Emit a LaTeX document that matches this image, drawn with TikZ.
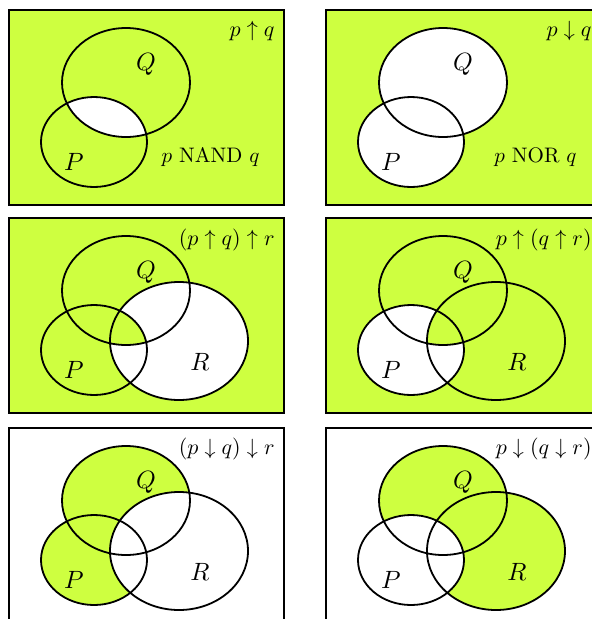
\documentclass[tikz,border=0pt]{standalone}
\usepackage{amsmath}
\definecolor{lime}{RGB}{206,255,64}
\tikzset{
  outline/.style={draw=black, line width=1.8pt},
  frame/.style={draw=black, line width=2pt},
  biglab/.style={inner sep=0pt, scale=2.5, anchor=base},
  smalllab/.style={inner sep=0pt, scale=2.2, anchor=base east},
  oplab/.style={inner sep=0pt, scale=2.1, anchor=base east},
}
\newcommand\venP{(94,142) ellipse [x radius=53pt, y radius=45pt]}
\newcommand\venQ{(126,82.5) ellipse [x radius=64pt, y radius=54.5pt]}
\newcommand\venR{(179,133) ellipse [x radius=69pt, y radius=59pt]}
\newcommand\venBox{(9,10) rectangle (284,205)}
\begin{document}
\begin{tikzpicture}[x=1pt,y=-1pt]
\useasboundingbox (0,0) rectangle (592,619);
\clip (0,0) rectangle (592,619);

% Panel 1: p NAND q
\begin{scope}
  \fill[lime] \venBox;
  \begin{scope}\clip \venP; \fill[white] \venQ; \end{scope}
  \draw[outline] \venQ; \draw[outline] \venP;
  \draw[frame] \venBox;
  \node[biglab] (q1) at (146,70) {$Q$};
  \node[biglab] (p1) at (74,170) {$P$};
  \node[smalllab] (t1) at (275,36) {$p\uparrow q$};
  \node[oplab] (n1) at (260,162) {$p$ NAND $q$};
\end{scope}

% Panel 2: p NOR q
\begin{scope}[shift={(317,0)}]
  \fill[lime] \venBox;
  \fill[white] \venP; \fill[white] \venQ;
  \draw[outline] \venQ; \draw[outline] \venP;
  \draw[frame] \venBox;
  \node[biglab] (q2) at (146,70) {$Q$};
  \node[biglab] (p2) at (74,170) {$P$};
  \node[smalllab] (t2) at (275,36) {$p\downarrow q$};
  \node[oplab] (n2) at (260,162) {$p$ NOR $q$};
\end{scope}

% Panel 3: (p up q) up r
\begin{scope}[shift={(0,208)}]
  \fill[lime] \venBox;
  \fill[white] \venR;
  \begin{scope}\clip \venP; \fill[lime] \venQ; \end{scope}
  \draw[outline] \venQ; \draw[outline] \venP; \draw[outline] \venR;
  \draw[frame] \venBox;
  \node[biglab] (q3) at (146,70) {$Q$};
  \node[biglab] (p3) at (74,170) {$P$};
  \node[biglab] (r3) at (200,162) {$R$};
  \node[smalllab] (t3) at (275,37) {$(p\uparrow q)\uparrow r$};
\end{scope}

% Panel 4: p up (q up r)
\begin{scope}[shift={(317,208)}]
  \fill[lime] \venBox;
  \fill[white] \venP;
  \begin{scope}\clip \venQ; \fill[lime] \venR; \end{scope}
  \draw[outline] \venQ; \draw[outline] \venP; \draw[outline] \venR;
  \draw[frame] \venBox;
  \node[biglab] (q4) at (146,70) {$Q$};
  \node[biglab] (p4) at (74,170) {$P$};
  \node[biglab] (r4) at (200,162) {$R$};
  \node[smalllab] (t4) at (275,37) {$p\uparrow(q\uparrow r)$};
\end{scope}

% Panel 5: (p down q) down r
\begin{scope}[shift={(0,418)}]
  \fill[white] \venBox;
  \fill[lime] \venP; \fill[lime] \venQ;
  \fill[white] \venR;
  \draw[outline] \venQ; \draw[outline] \venP; \draw[outline] \venR;
  \draw[frame] \venBox;
  \node[biglab] (q5) at (146,70) {$Q$};
  \node[biglab] (p5) at (74,170) {$P$};
  \node[biglab] (r5) at (200,162) {$R$};
  \node[smalllab] (t5) at (275,36) {$(p\downarrow q)\downarrow r$};
\end{scope}

% Panel 6: p down (q down r)
\begin{scope}[shift={(317,418)}]
  \fill[white] \venBox;
  \fill[lime] \venQ; \fill[lime] \venR;
  \fill[white] \venP;
  \draw[outline] \venQ; \draw[outline] \venP; \draw[outline] \venR;
  \draw[frame] \venBox;
  \node[biglab] (q6) at (146,70) {$Q$};
  \node[biglab] (p6) at (74,170) {$P$};
  \node[biglab] (r6) at (200,162) {$R$};
  \node[smalllab] (t6) at (275,36) {$p\downarrow(q\downarrow r)$};
\end{scope}
\end{tikzpicture}
\end{document}
